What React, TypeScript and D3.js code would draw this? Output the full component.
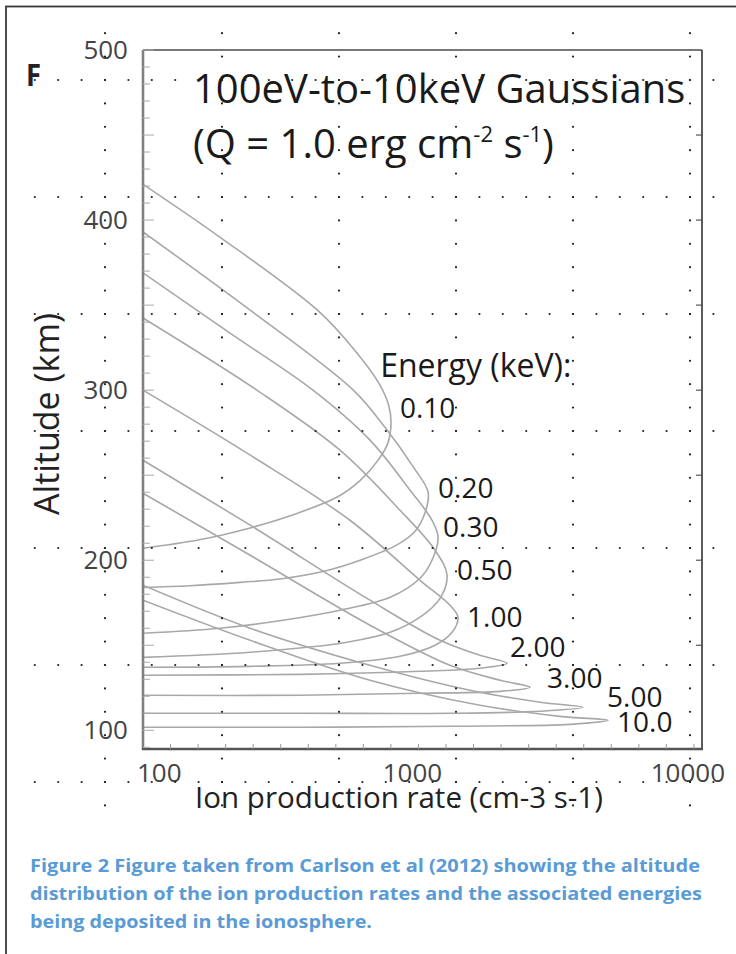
import React from "react";
import * as d3 from "d3";

// Energy labels (keV) of the Gaussian spectra
const energyLabels = ["0.10", "0.20", "0.30", "0.50", "1.00", "2.00", "3.00", "5.00", "10.0"];

// Ion production rate (cm-3 s-1) and altitude (km), in path order (upper branch -> peak -> lower branch)
const rate010 = [100, 190, 430, 590, 725, 780, 795, 775, 715, 615, 505, 340, 245, 160, 100];
const alt010 = [421, 390, 347, 323, 303, 291, 281, 269, 259, 247, 237, 226, 219, 212, 207];
const rate020 = [100, 245, 580, 757, 956, 1084, 1057, 972, 836, 614, 466, 314, 225, 148, 100];
const alt020 = [393, 347, 300, 278, 255, 240, 228, 217, 209, 200, 194, 189, 187, 185, 184];
const rate030 = [100, 207, 414, 667, 932, 1120, 1178, 1120, 1013, 789, 519, 322, 190, 100];
const alt030 = [369, 333.5, 300, 270.6, 241.2, 223.5, 213.5, 200, 189.4, 178.2, 170.6, 164.7, 160, 157.1];
const rate050 = [100, 259, 519, 857, 1149, 1270, 1198, 1013, 789, 551, 245, 100];
const alt050 = [342.4, 300, 264.7, 229.4, 205.9, 191.2, 177.6, 166.5, 157.6, 151.8, 145.9, 142.9];
const rate100 = [100, 245, 564, 1013, 1302, 1392, 1324, 1149, 857, 519, 245, 100];
const alt100 = [300, 261.8, 223.5, 188.2, 173.5, 166.5, 157.6, 150, 143.5, 139.4, 137.6, 137.1];
const rate200 = [100, 245, 667, 1198, 1674, 2097, 1674, 1013, 372, 100];
const alt200 = [258.8, 220.6, 176.5, 152.9, 144.1, 139.4, 136.5, 134.7, 132.9, 132.4];
const rate300 = [100, 245, 667, 1302, 1979, 2542, 1979, 1013, 372, 100];
const alt300 = [239.4, 202.9, 161.8, 138.2, 129.4, 125.3, 122.9, 121.8, 120.6, 120.6];
const rate500 = [100, 245, 667, 1539, 2764, 3960, 2764, 1302, 372, 100];
const alt500 = [185.3, 160, 138.2, 123.5, 116.5, 113.5, 111.2, 110, 110, 110];
const rate1000 = [100, 245, 667, 1674, 3268, 4881, 3552, 1302, 372, 100];
const alt1000 = [176.5, 152.9, 129.4, 114.7, 108.2, 105.9, 103.5, 102.4, 101.8, 101.8];

const curveRates = [rate010, rate020, rate030, rate050, rate100, rate200, rate300, rate500, rate1000];
const curveAlts = [alt010, alt020, alt030, alt050, alt100, alt200, alt300, alt500, alt1000];

// Label anchors in data units (rate, altitude)
const labelRate = [857, 1178, 1228, 1381, 1501, 2151, 2931, 4840, 5260];
const labelAlt = [283.5, 236.5, 213.5, 188.2, 160.6, 142.9, 124.7, 113.5, 98.8];

const yTicks = [100, 200, 300, 400, 500];
const xTicks = [100, 1000, 10000];

const titleLine1 = "100eV-to-10keV Gaussians";
const captionLines = [
  "Figure 2 Figure taken from Carlson et al (2012) showing the altitude",
  "distribution of the ion production rates and the associated energies",
  "being deposited in the ionosphere.",
];

export default function App() {
  const W = 736;
  const H = 954;
  const left = 143, right = 702, top = 50, bottom = 749;
  const x = d3.scaleLog().domain([100, 10700]).range([left, right]);
  const y = d3.scaleLinear().domain([89, 500]).range([bottom, top]);
  const line = d3
    .line<[number, number]>()
    .x((d) => x(d[0]))
    .y((d) => y(d[1]))
    .curve(d3.curveCatmullRom.alpha(0.5));

  const font = "'Open Sans', 'Noto Sans', sans-serif";

  // decorative dotted layout grid
  const rowYs = d3.range(7).map((i) => 80 + 117 * i);
  const colXs = d3.range(6).map((i) => 105 + 117 * i);
  const rowDotXs = d3.range(-3, 27).map((k) => 105 + 23.4 * k);
  const colDotYs = d3.range(-2, 32).map((k) => 80 + 23.4 * k);

  const leftTicks = d3.range(90, 501, 10);
  const rightTicks = d3.range(150, 451, 50);
  const bottomTicks = d3.range(1, 21).map((k) => 100 * Math.pow(10, k / 10)).filter((v) => v <= 10700);

  return (
    <div style={{ position: "absolute", left: 0, top: 0 }}>
      <svg width={W} height={H} style={{ display: "block", background: "#fff" }} fontFamily={font}>
        <defs>
          <clipPath id="plotClip">
            <rect x={left} y={top} width={right - left} height={bottom - top} />
          </clipPath>
        </defs>
        {/* outer frame */}
        <rect x={6} y={6.5} width={760} height={980} fill="none" stroke="#3a3a3a" strokeWidth={1.8} />

        {/* curves */}
        <g clipPath="url(#plotClip)">
          {curveRates.map((r, i) => (
            <path
              key={i}
              d={line(r.map((v, j) => [v, curveAlts[i][j]] as [number, number])) || ""}
              fill="none"
              stroke="#a8a8a8"
              strokeWidth={1.6}
            />
          ))}
        </g>

        {/* axes frame */}
        <line x1={left} x2={right} y1={top} y2={top} stroke="#777" strokeWidth={1.8} />
        <line x1={right} x2={right} y1={top} y2={bottom} stroke="#333" strokeWidth={1.6} />
        <line x1={left} x2={left} y1={top} y2={bottom + 1} stroke="#808080" strokeWidth={2.6} />
        <line x1={left - 1} x2={right + 1} y1={bottom} y2={bottom} stroke="#555" strokeWidth={2.4} />

        {/* left ticks */}
        {leftTicks.map((t) => (
          <line key={"lt" + t} x1={left} x2={left + (t % 50 === 0 ? 11 : 7)} y1={y(t)} y2={y(t)} stroke="#aaa" strokeWidth={1} />
        ))}
        {/* right ticks */}
        {rightTicks.map((t) => (
          <line key={"rt" + t} x1={right - 6} x2={right + 1} y1={y(t)} y2={y(t)} stroke="#555" strokeWidth={1.2} />
        ))}
        {/* bottom ticks */}
        {bottomTicks.map((t, i) => (
          <line key={"bt" + i} x1={x(t)} x2={x(t)} y1={bottom} y2={bottom - 5} stroke="#999" strokeWidth={1} />
        ))}

        {/* y tick labels */}
        {yTicks.map((t) => (
          <text key={"yl" + t} x={128} y={y(t) + 9} textAnchor="end" fontSize={26} fill="#444">
            {t}
          </text>
        ))}
        {/* x tick labels */}
        {xTicks.map((t, i) => (
          <text
            key={"xl" + t}
            x={x(t) - 6}
            y={782}
            textAnchor={i === 0 ? "start" : "middle"}
            fontSize={26}
            fill="#444"
          >
            {t}
          </text>
        ))}

        {/* axis titles */}
        <text transform="translate(59,414) rotate(-90)" textAnchor="middle" fontSize={34} fill="#222">
          Altitude (km)
        </text>
        <text x={399} y={808} textAnchor="middle" fontSize={29.5} fill="#222">
          Ion production rate (cm-3 s-1)
        </text>

        {/* panel letter */}
        <text x={26} y={86} fontSize={30} fontWeight={700} fill="#222" textLength={15} lengthAdjust="spacingAndGlyphs">
          F
        </text>

        {/* title */}
        <text x={193} y={103} fontSize={40} fill="#1a1a1a">
          {titleLine1}
        </text>
        <text x={193} y={158} fontSize={40} fill="#1a1a1a" style={{ whiteSpace: "pre" }}>
          <tspan>(Q = 1.0 erg cm</tspan>
          <tspan fontSize={22} dy={-16}>-2</tspan>
          <tspan dy={16}> s</tspan>
          <tspan fontSize={22} dy={-16}>-1</tspan>
          <tspan dy={16}>)</tspan>
        </text>

        {/* energy legend */}
        <text x={x(726)} y={y(308)} fontSize={32} fill="#1a1a1a">
          Energy (keV):
        </text>
        {energyLabels.map((lab, i) => (
          <text key={"el" + i} x={x(labelRate[i])} y={y(labelAlt[i])} fontSize={28} fill="#1a1a1a">
            {lab}
          </text>
        ))}

        {/* dotted layout grid */}
        <g fill="#222">
          {rowYs.map((ry) =>
            rowDotXs.map((rx) => <circle key={"r" + ry + "_" + rx} cx={rx} cy={ry} r={1.1} />)
          )}
          {colXs.map((cx) =>
            colDotYs.map((cy) => <circle key={"c" + cx + "_" + cy} cx={cx} cy={cy} r={1.1} />)
          )}
        </g>

        {/* caption */}
        {captionLines.map((ln, i) => (
          <text
            key={"cap" + i}
            x={30}
            y={872 + i * 28}
            fontSize={17.5}
            fontWeight={700}
            fill="#5b9bd5"
            textLength={i === 0 ? 670 : i === 1 ? 672 : 342}
            lengthAdjust="spacingAndGlyphs"
          >
            {ln}
          </text>
        ))}
      </svg>
    </div>
  );
}
